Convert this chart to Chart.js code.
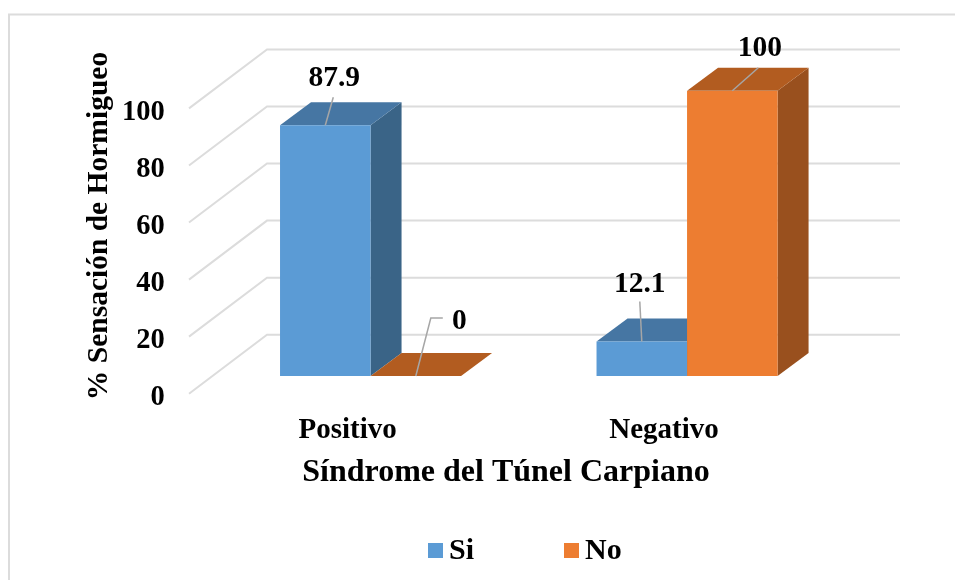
<!DOCTYPE html>
<html>
<head>
<meta charset="utf-8">
<title>Sensación de Hormigueo</title>
<script src="https://cdn.jsdelivr.net/npm/chart.js@4"></script>
<style>
    html, body { margin: 0; padding: 0; background: #fff; }
    canvas { display: block; }
</style>
</head>
<body>
<canvas id="chart" width="955" height="580"></canvas>
<script>
const categories = ['Positivo', 'Negativo'];
const seriesNames = ['Si', 'No'];
const siValues = [87.9, 12.1];
const noValues = [0, 100];
const yTicks = [0, 20, 40, 60, 80, 100];
const xTitle = 'Síndrome del Túnel Carpiano';
const yTitle = '% Sensación de Hormigueo';

const FONT = '"Liberation Serif", "Times New Roman", serif';
const DEPTH_X = 31;
const DEPTH_Y = 23;
const GRID = '#DCDCDC';

// colores de cada serie: frente, arriba, lado
const faceColors = [
    { front: '#5B9BD5', top: '#4676A3', side: '#3A6487' },
    { front: '#ED7D31', top: '#B25C20', side: '#99501E' },
];

// etiquetas de datos: desplazamiento respecto al frente de cada barra
const labelPlaces = [
    [{ tx: 9, ty: -47, line: [[8, -28]] }, { tx: -2, ty: -57, line: [[-2, -40]] }],
    [{ tx: 43.5, ty: -55, line: [[15, -58], [27, -58]] }, { tx: 27.5, ty: -42, line: [[26, -23]] }],
];

// cuadro exterior, paredes y líneas de la cuadrícula
const wallsPlugin = {
    id: 'walls',
    beforeDraw(chart) {
        const c = chart.ctx;
        c.save();
        c.strokeStyle = GRID;
        c.lineWidth = 2;
        c.beginPath();
        c.moveTo(9, 580);
        c.lineTo(9, 14.5);
        c.lineTo(955, 14.5);
        c.stroke();
        c.restore();
    },
    beforeDatasetsDraw(chart) {
        const c = chart.ctx;
        const y = chart.scales.y;
        c.save();
        c.strokeStyle = GRID;
        c.lineWidth = 2;
        yTicks.forEach((t) => {
            const py = y.getPixelForValue(t);
            c.beginPath();
            c.moveTo(189, py + 17.7);
            c.lineTo(267, py - 41.3);
            c.lineTo(900, py - 41.3);
            c.stroke();
        });

        // caras laterales y superiores, antes del frente de las barras
        chart.data.datasets.forEach((ds, i) => {
            chart.getDatasetMeta(i).data.forEach((bar) => {
                const l = bar.x - bar.width / 2;
                const r = bar.x + bar.width / 2;
                c.fillStyle = faceColors[i].side;
                c.beginPath();
                c.moveTo(r, bar.y);
                c.lineTo(r + DEPTH_X, bar.y - DEPTH_Y);
                c.lineTo(r + DEPTH_X, bar.base - DEPTH_Y);
                c.lineTo(r, bar.base);
                c.closePath();
                c.fill();
                c.fillStyle = faceColors[i].top;
                c.beginPath();
                c.moveTo(l, bar.y);
                c.lineTo(l + DEPTH_X, bar.y - DEPTH_Y);
                c.lineTo(r + DEPTH_X, bar.y - DEPTH_Y);
                c.lineTo(r, bar.y);
                c.closePath();
                c.fill();
            });
        });
        c.restore();
    },
    afterDatasetsDraw(chart) {
        const c = chart.ctx;
        c.save();
        c.textAlign = 'center';
        c.textBaseline = 'middle';
        c.font = 'bold 29.5px ' + FONT;
        chart.data.datasets.forEach((ds, i) => {
            chart.getDatasetMeta(i).data.forEach((bar, j) => {
                const place = labelPlaces[i][j];
                c.strokeStyle = '#A6A6A6';
                c.lineWidth = 1.5;
                c.beginPath();
                c.moveTo(bar.x, bar.y);
                place.line.forEach((p) => c.lineTo(bar.x + p[0], bar.y + p[1]));
                c.stroke();
                c.fillStyle = '#000';
                c.fillText(String(ds.data[j]), bar.x + place.tx, bar.y + place.ty);
            });
        });

        // títulos de los ejes
        c.font = 'bold 32px ' + FONT;
        c.fillText(xTitle, 506, 473);
        c.font = 'bold 29.5px ' + FONT;
        c.save();
        c.translate(99, 226);
        c.rotate(-Math.PI / 2);
        c.fillText(yTitle, 0, 0);
        c.restore();

        // leyenda
        const legendX = [428, 564];
        c.font = 'bold 30px ' + FONT;
        c.textAlign = 'left';
        chart.data.datasets.forEach((ds, i) => {
            c.fillStyle = ds.backgroundColor;
            c.fillRect(legendX[i], 543, 15, 15);
            c.fillStyle = '#000';
            c.fillText(ds.label, legendX[i] + 21, 551);
        });
        c.restore();
    },
};

new Chart(document.getElementById('chart'), {
    type: 'bar',
    data: {
        labels: categories,
        datasets: [
            { label: seriesNames[0], data: siValues, backgroundColor: faceColors[0].front },
            { label: seriesNames[1], data: noValues, backgroundColor: faceColors[1].front },
        ],
    },
    options: {
        responsive: false,
        animation: false,
        barPercentage: 1,
        categoryPercentage: 0.572,
        layout: { padding: { left: 0, top: 90.7, right: 109.7, bottom: 124 } },
        plugins: { legend: { display: false }, tooltip: { enabled: false } },
        scales: {
            x: {
                grid: { display: false },
                border: { display: false },
                afterFit(scale) { scale.height = 80; },
                ticks: {
                    color: '#000',
                    font: { family: FONT, size: 29, weight: 'bold' },
                    padding: 29,
                    labelOffset: -23,
                    maxRotation: 0,
                },
            },
            y: {
                min: 0,
                max: 100,
                grid: { display: false, drawTicks: false },
                border: { display: false },
                afterFit(scale) { scale.width = 212.3; },
                ticks: {
                    stepSize: 20,
                    color: '#000',
                    font: { family: FONT, size: 28.5, weight: 'bold' },
                    padding: 47.5,
                    labelOffset: 21.5,
                },
            },
        },
    },
    plugins: [wallsPlugin],
});
</script>
</body>
</html>
